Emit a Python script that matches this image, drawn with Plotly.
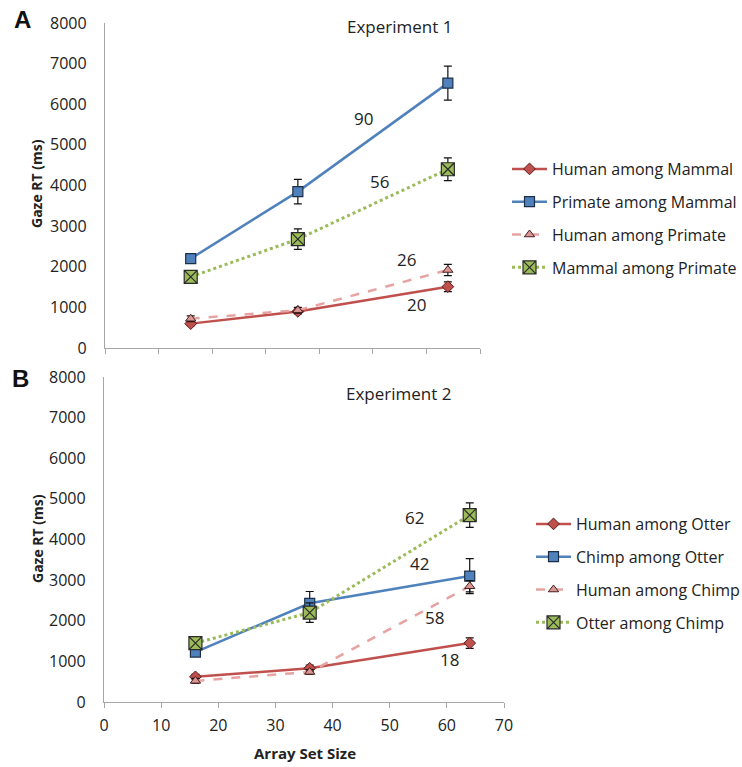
import plotly.graph_objects as go

# ---------------- data ----------------
set_sizes = [16, 36, 64]

# Experiment 1
exp1_names = ["Human among Mammal", "Primate among Mammal", "Human among Primate", "Mammal among Primate"]
human_mammal = [600, 900, 1510]
human_mammal_err = [50, 60, 120]
primate_mammal = [2200, 3850, 6520]
primate_mammal_err = [80, 300, 420]
human_primate = [720, 930, 1920]
human_primate_err = [70, 70, 140]
mammal_primate = [1750, 2680, 4400]
mammal_primate_err = [60, 250, 280]
exp1_slopes = ["90", "56", "26", "20"]

# Experiment 2
exp2_names = ["Human among Otter", "Chimp among Otter", "Human among Chimp", "Otter among Chimp"]
human_otter = [620, 830, 1450]
human_otter_err = [60, 80, 130]
chimp_otter = [1230, 2430, 3100]
chimp_otter_err = [70, 290, 430]
human_chimp = [520, 740, 2850]
human_chimp_err = [60, 60, 140]
otter_chimp = [1450, 2200, 4600]
otter_chimp_err = [90, 240, 300]
exp2_slopes = ["62", "42", "58", "18"]

y_ticks = [0, 1000, 2000, 3000, 4000, 5000, 6000, 7000, 8000]
x_ticks = [0, 10, 20, 30, 40, 50, 60, 70]

# ---------------- styles ----------------
FONT = "Open Sans"
RED = "#c0504d"
BLUE = "#4f81bd"
PINK = "#e6a3a2"
PINK_M = "#d99694"
GREEN = "#9bbb59"
DARK = "#2a2a2a"
AX = "#a6a6a6"
W, H = 742, 767

styles = [
    dict(line=dict(color=RED, width=2.5), marker=dict(symbol="diamond", size=9, color=RED, line=dict(color="#5a1a18", width=1))),
    dict(line=dict(color=BLUE, width=2.5), marker=dict(symbol="square", size=10, color=BLUE, line=dict(color="#1e2f45", width=1.2))),
    dict(line=dict(color=PINK, width=2.5, dash="dash"), marker=dict(symbol="triangle-up", size=9, color=PINK_M, line=dict(color="#4a2020", width=1))),
    dict(line=dict(color=GREEN, width=3, dash="dot"), marker=dict(symbol="square-x", size=13, color=GREEN, line=dict(color=DARK, width=1.2))),
]

fig = go.Figure()

exp1_vals = [human_mammal, primate_mammal, human_primate, mammal_primate]
exp1_errs = [human_mammal_err, primate_mammal_err, human_primate_err, mammal_primate_err]
exp2_vals = [human_otter, chimp_otter, human_chimp, otter_chimp]
exp2_errs = [human_otter_err, chimp_otter_err, human_chimp_err, otter_chimp_err]

for i, (nm, v, e) in enumerate(zip(exp1_names, exp1_vals, exp1_errs)):
    fig.add_trace(go.Scatter(
        x=set_sizes, y=v, name=nm, mode="lines+markers",
        error_y=dict(type="data", array=e, color="#111111", thickness=1.2, width=4),
        xaxis="x", yaxis="y", legend="legend", legendgroup="a%d" % i,
        **styles[i]))

for i, (nm, v, e) in enumerate(zip(exp2_names, exp2_vals, exp2_errs)):
    fig.add_trace(go.Scatter(
        x=set_sizes, y=v, name=nm, mode="lines+markers",
        error_y=dict(type="data", array=e, color="#111111", thickness=1.2, width=4),
        xaxis="x2", yaxis="y2", legend="legend2", legendgroup="b%d" % i,
        **styles[i]))

axis_common = dict(showgrid=False, zeroline=False, showline=True, linecolor=AX, linewidth=1.3,
                   automargin=False,
                   tickfont=dict(family=FONT, size=16, color="#222222"))

fig.update_layout(
    width=W, height=H,
    margin=dict(l=0, r=0, t=0, b=0, autoexpand=False),
    paper_bgcolor="white", plot_bgcolor="white",
    showlegend=True,
    font=dict(family=FONT, color="#222222"),
    xaxis=dict(domain=[105/W, 480/W], range=[0, 70], tickvals=x_ticks, showticklabels=False,
               ticks="outside", ticklen=5, tickcolor=AX, anchor="y", **axis_common),
    yaxis=dict(domain=[1-348/H, 1-23/H], range=[0, 8000], tickvals=y_ticks, ticks="",
               ticklabelstandoff=14, anchor="x", **axis_common),
    xaxis2=dict(domain=[104/W, 504/W], range=[0, 70], tickvals=x_ticks,
                ticks="outside", ticklen=5, tickcolor=AX, ticklabelstandoff=4, anchor="y2", **axis_common),
    yaxis2=dict(domain=[1-702/H, 1-377/H], range=[0, 8000], tickvals=y_ticks, ticks="",
                ticklabelstandoff=14, anchor="x2", **axis_common),
    legend=dict(x=507/W, xanchor="left", y=1-152/H, yanchor="top", itemwidth=35,
                font=dict(family=FONT, size=16, color="#222222"), tracegroupgap=9,
                traceorder="grouped", bgcolor="rgba(0,0,0,0)", itemclick=False),
    legend2=dict(x=531/W, xanchor="left", y=1-507/H, yanchor="top", itemwidth=35,
                 font=dict(family=FONT, size=16, color="#222222"), tracegroupgap=9,
                 traceorder="grouped", bgcolor="rgba(0,0,0,0)", itemclick=False),
)

ann = []
slope1_map = {"90": (48.3, 5660), "56": (51.3, 4090), "26": (56.3, 2170), "20": (58.2, 1060)}
for s in exp1_slopes:
    px, py = slope1_map[s]
    ann.append(dict(x=px, y=py, xref="x", yref="y", text=s, showarrow=False,
                    xanchor="center", yanchor="middle",
                    font=dict(family=FONT, size=17, color="#222222")))
slope2_map = {"62": (54.4, 4550), "42": (55.2, 3420), "58": (57.9, 2070), "18": (60.5, 1050)}
for s in exp2_slopes:
    px, py = slope2_map[s]
    ann.append(dict(x=px, y=py, xref="x2", yref="y2", text=s, showarrow=False,
                    xanchor="center", yanchor="middle",
                    font=dict(family=FONT, size=17, color="#222222")))

def pa(x, y, text, size, family=FONT, angle=0, color="#222222"):
    return dict(x=x/W, y=1-y/H, xref="paper", yref="paper", text=text, showarrow=False,
                xanchor="center", yanchor="middle", textangle=angle,
                font=dict(family=family, size=size, color=color))

ann += [
    pa(400, 27, "Experiment 1", 17),
    pa(398, 393, "Experiment 2", 17),
    pa(37, 184, "<b>Gaze RT (ms)</b>", 14, angle=-90),
    pa(37, 539, "<b>Gaze RT (ms)</b>", 14, angle=-90),
    pa(305, 753, "<b>Array Set Size</b>", 15),
    pa(22, 20, "<b>A</b>", 24, family="Liberation Sans", color="#111111"),
    pa(20, 378, "<b>B</b>", 24, family="Liberation Sans", color="#111111"),
]
fig.update_layout(annotations=ann)

fig.write_html("out.html", config={"displayModeBar": False},
               post_script="document.body.style.margin='0';document.body.style.padding='0';")
